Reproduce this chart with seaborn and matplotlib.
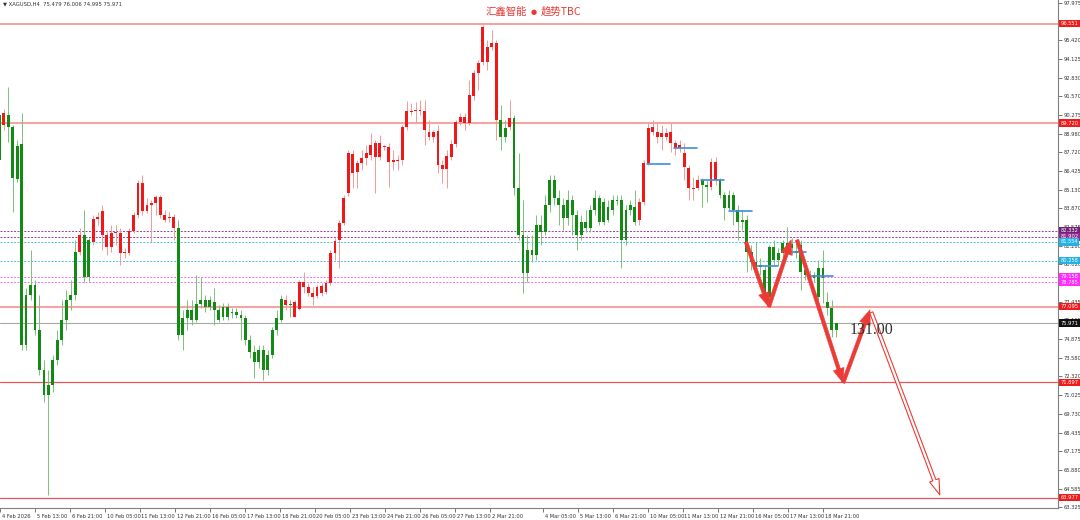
import numpy as np
import pandas as pd
import seaborn as sns
import matplotlib.pyplot as plt
from matplotlib import transforms

# XAGUSD H4 candles
opens = [
    90.28, 89.59, 90.28, 89.45, 85.88, 88.28, 74.47, 77.91, 78.59, 75.50,
    72.75, 71.03, 71.72, 73.44, 74.81, 76.19, 77.56, 77.91, 80.86, 82.03,
    79.14, 81.55, 83.13, 82.03, 82.03, 81.21, 82.17, 82.17, 80.79, 80.79,
    82.30, 83.40, 85.60, 83.68, 84.09, 84.23, 84.64, 83.40, 83.20, 83.27,
    82.51, 75.16, 76.32, 76.87, 76.19, 77.29, 77.56, 77.08, 77.42, 76.87,
    76.39, 77.08, 76.74, 76.74, 76.53, 76.32, 74.81, 73.99, 73.30, 74.12,
    72.75, 73.78, 75.50, 76.19, 77.22, 77.22, 76.39, 76.94, 78.46, 78.04,
    77.77, 77.84, 78.04, 78.11, 78.73, 80.79, 81.69, 82.85, 84.92, 87.60,
    86.36, 86.98, 87.32, 87.53, 88.35, 87.39, 88.08, 88.08, 87.18, 87.11,
    87.18, 89.45, 90.48, 90.55, 90.62, 90.55, 89.11, 88.76, 89.18, 86.84,
    86.57, 87.39, 88.28, 89.79, 89.73, 89.73, 91.58, 93.16, 93.92, 94.95,
    94.95, 95.23, 89.93, 89.38, 89.45, 90.07, 85.26, 82.03, 79.42, 81.00,
    80.65, 82.72, 82.23, 84.09, 85.81, 84.57, 84.09, 83.20, 84.43, 83.40,
    82.03, 82.92, 82.51, 83.75, 84.57, 82.92, 83.95, 83.75, 84.43, 84.43,
    81.69, 83.75, 83.95, 83.06, 84.30, 86.98, 89.11, 88.76, 88.76, 88.76,
    89.11, 88.35, 88.01, 87.66, 86.63, 85.26, 85.26, 85.81, 85.46, 85.33,
    87.05, 85.81, 84.78, 83.88, 84.78, 83.75, 82.92, 83.06, 80.86, 80.17,
    79.83, 79.62, 77.77, 81.21, 80.31, 80.79, 81.48, 81.14, 80.93, 81.34,
    79.62, 79.28, 79.07, 79.76, 79.76, 77.42, 77.01, 75.479,
]
highs = [
    90.48, 90.69, 92.20, 89.59, 88.56, 90.41, 78.39, 81.00, 78.94, 77.91,
    73.44, 72.75, 73.78, 75.50, 77.56, 78.25, 78.94, 81.69, 82.51, 83.75,
    81.83, 83.41, 83.61, 84.09, 82.37, 82.72, 82.72, 82.51, 81.14, 82.51,
    83.61, 85.81, 86.15, 84.57, 84.43, 84.78, 84.78, 83.75, 83.61, 83.47,
    83.06, 76.87, 77.56, 77.56, 79.28, 79.14, 77.91, 77.84, 78.39, 77.22,
    77.36, 77.36, 77.01, 77.01, 76.87, 76.53, 75.16, 74.47, 74.47, 74.47,
    74.12, 75.70, 76.87, 77.91, 77.91, 77.56, 77.56, 78.94, 79.49, 78.73,
    78.46, 78.59, 78.73, 78.94, 81.00, 81.83, 83.06, 84.78, 87.87, 87.87,
    87.18, 87.87, 88.21, 89.04, 88.56, 88.90, 88.21, 88.35, 87.87, 87.53,
    89.59, 91.24, 91.10, 91.17, 91.31, 91.31, 89.93, 89.25, 89.59, 87.18,
    87.87, 88.56, 89.93, 90.41, 90.41, 92.68, 93.37, 94.06, 96.46, 95.43,
    96.12, 95.43, 90.96, 89.93, 91.31, 90.28, 87.66, 84.43, 82.03, 82.03,
    83.40, 83.40, 84.78, 86.15, 86.15, 85.12, 84.57, 85.12, 84.78, 83.75,
    83.40, 83.75, 84.09, 85.12, 84.78, 84.57, 84.43, 84.78, 84.78, 84.78,
    84.09, 84.43, 85.12, 84.57, 87.18, 89.73, 89.93, 89.73, 89.59, 89.38,
    89.73, 88.56, 88.56, 88.35, 86.84, 86.02, 86.15, 85.95, 85.81, 87.32,
    87.39, 85.95, 84.99, 85.12, 84.99, 84.09, 83.75, 83.40, 81.34, 81.55,
    80.45, 79.97, 81.34, 81.69, 81.14, 81.69, 82.58, 81.83, 81.55, 81.69,
    79.97, 79.62, 79.49, 80.31, 81.00, 78.11, 77.56, 76.006,
]
lows = [
    85.12, 89.25, 88.42, 83.61, 85.67, 74.12, 74.12, 77.56, 75.16, 72.41,
    70.55, 64.16, 71.24, 73.09, 74.47, 75.50, 76.87, 77.56, 80.65, 78.80,
    78.80, 81.34, 82.72, 81.00, 80.65, 80.86, 81.34, 79.97, 80.45, 80.65,
    82.17, 83.20, 83.40, 83.54, 81.55, 83.40, 83.20, 82.92, 82.92, 81.69,
    74.81, 74.12, 75.50, 75.84, 76.05, 77.01, 76.74, 76.87, 75.84, 76.05,
    76.19, 76.19, 76.32, 76.32, 74.81, 74.47, 73.57, 72.20, 72.89, 72.06,
    72.41, 73.57, 75.16, 76.05, 76.87, 76.39, 76.39, 76.87, 78.04, 77.84,
    77.22, 77.70, 77.84, 77.98, 78.59, 80.31, 79.76, 82.72, 84.71, 85.26,
    85.26, 86.50, 86.84, 87.18, 84.92, 87.18, 87.87, 85.33, 86.50, 86.50,
    86.84, 89.25, 90.28, 89.80, 90.28, 88.21, 88.56, 88.42, 86.29, 85.60,
    85.26, 87.18, 88.08, 89.59, 89.25, 89.59, 91.31, 91.99, 93.71, 93.37,
    94.74, 88.56, 87.87, 88.42, 89.25, 84.78, 81.69, 78.04, 78.80, 80.17,
    80.31, 81.34, 82.03, 83.61, 84.09, 82.72, 82.37, 82.72, 82.03, 81.00,
    81.69, 82.23, 82.23, 83.40, 82.72, 82.72, 82.92, 83.40, 84.09, 79.76,
    81.34, 83.40, 82.72, 82.72, 84.09, 86.84, 88.90, 88.35, 87.87, 88.56,
    87.73, 87.53, 87.73, 85.81, 84.43, 84.43, 85.12, 83.95, 84.30, 85.12,
    85.46, 84.57, 83.06, 83.75, 82.72, 81.69, 82.37, 79.49, 79.62, 79.07,
    79.28, 77.70, 77.56, 79.97, 79.97, 80.45, 80.86, 80.65, 80.45, 78.25,
    78.94, 78.80, 78.80, 77.56, 77.36, 76.53, 75.02, 74.995,
]
closes = [
    87.18, 90.41, 89.45, 85.95, 88.14, 74.47, 77.91, 78.59, 75.50, 72.75,
    71.03, 71.72, 73.44, 74.81, 76.19, 77.56, 77.91, 80.86, 82.03, 79.14,
    81.69, 83.13, 83.27, 83.68, 81.21, 82.17, 82.20, 80.79, 80.82, 82.30,
    83.40, 85.60, 83.68, 84.09, 84.23, 84.64, 83.40, 83.06, 83.27, 82.51,
    75.16, 76.32, 76.87, 76.19, 77.29, 77.56, 77.08, 77.56, 76.87, 76.19,
    77.08, 76.39, 76.67, 76.53, 76.32, 74.81, 73.99, 73.30, 74.12, 72.75,
    73.78, 75.50, 76.32, 77.63, 77.56, 77.25, 77.42, 78.80, 78.80, 78.46,
    78.04, 78.46, 78.52, 78.73, 80.79, 81.62, 82.85, 84.57, 87.66, 86.29,
    86.98, 87.32, 87.66, 88.21, 87.39, 88.35, 88.14, 87.05, 87.05, 87.18,
    89.45, 90.55, 90.55, 90.62, 90.55, 89.25, 88.76, 89.11, 86.84, 86.57,
    87.46, 88.28, 89.79, 90.14, 90.14, 91.65, 93.16, 93.85, 96.32, 93.92,
    95.23, 89.93, 88.76, 88.76, 90.07, 85.26, 82.03, 79.42, 81.00, 80.65,
    82.72, 82.23, 84.09, 85.81, 84.57, 84.09, 83.20, 84.43, 83.40, 82.03,
    82.92, 82.51, 83.75, 84.57, 82.92, 84.30, 83.06, 84.43, 84.37, 81.69,
    83.75, 84.09, 82.92, 84.30, 86.98, 89.38, 89.45, 89.11, 89.04, 89.04,
    88.35, 88.01, 88.21, 86.70, 85.26, 85.22, 85.81, 85.46, 85.33, 87.05,
    85.81, 84.78, 83.88, 84.78, 83.75, 82.92, 83.06, 80.86, 80.17, 79.83,
    79.97, 77.91, 81.21, 80.31, 80.79, 81.48, 81.14, 81.41, 80.79, 79.49,
    79.28, 79.07, 79.28, 77.77, 79.07, 77.01, 75.48, 75.971,
]
# bars painted red by the TBC trend indicator (inclusive index ranges), rest green
red_runs = [(1, 1), (18, 18), (21, 39), (64, 64), (66, 111), (114, 114),
            (143, 156), (159, 160)]

x_tick_pos = [0.2, 8.0, 15.8, 23.6, 31.4, 39.3, 47.1, 54.9, 62.7, 70.5, 78.4, 86.2,
              94.0, 101.8, 109.6, 121.5, 129.3, 137.1, 144.9, 152.7, 160.6, 168.4,
              176.2, 184.0]
x_tick_labels = ["4 Feb 2026", "5 Feb 13:00", "6 Feb 21:00", "10 Feb 05:00",
                 "11 Feb 13:00", "12 Feb 21:00", "16 Feb 05:00", "17 Feb 13:00",
                 "18 Feb 21:00", "20 Feb 05:00", "23 Feb 13:00", "24 Feb 21:00",
                 "26 Feb 05:00", "27 Feb 13:00", "2 Mar 21:00", "4 Mar 05:00",
                 "5 Mar 13:00", "6 Mar 21:00", "10 Mar 05:00", "11 Mar 13:00",
                 "12 Mar 21:00", "16 Mar 05:00", "17 Mar 13:00", "18 Mar 21:00"]
# price scale labels (those fully hidden under tags are left out)
y_ticks = [97.975, 95.420, 94.125, 92.830, 91.570, 90.275, 88.980, 87.720,
           86.425, 85.130, 83.870, 82.575, 81.280, 80.020, 77.435, 76.165,
           74.875, 73.580, 72.320, 71.025, 69.730, 68.435, 67.175, 65.880, 64.585,
           63.325]

# horizontal levels
red_levels = [96.551, 89.720, 77.095]
red_levels_thin = [71.897, 63.977]
last_price = 75.971
purple_levels = [82.332, 81.902]
cyan_levels = [81.554, 80.258]
magenta_levels = [79.158, 78.785]

# price tags on the right axis
tag_values = [96.551, 89.720, 82.332, 81.902, 81.554, 80.258, 79.158, 78.785,
              77.095, 75.971, 71.897, 63.977]
tag_colors = ["#f01c1c", "#f01c1c", "#74207a", "#8c2c8e", "#22b2e6", "#22b2e6",
              "#ff2cff", "#ff2cff", "#f01c1c", "#111111", "#f01c1c", "#f01c1c"]

# short blue indicator segments
seg_start = [144.7, 150.7, 156.8, 163.0, 169.3, 176.9, 180.7]
seg_end = [149.8, 155.9, 161.9, 168.1, 174.0, 180.2, 186.2]
seg_level = [86.91, 88.01, 85.81, 83.68, 79.90, 80.86, 79.21]

# projected path arrows
arr_x0 = [166.8, 171.9, 178.2, 188.5]
arr_y0 = [81.55, 77.08, 81.69, 71.86]
arr_x1 = [171.9, 176.9, 188.5, 194.5]
arr_y1 = [77.08, 81.69, 71.86, 76.88]
last_arrow = (194.8, 76.70, 210.1, 64.16)

sns.set_theme(style="white")
plt.rcParams["font.family"] = ["DejaVu Sans"]

df = pd.DataFrame({"o": opens, "h": highs, "l": lows, "c": closes})
df["i"] = np.arange(len(df))
df["red"] = False
for a, b in red_runs:
    df.loc[a:b, "red"] = True

fig = plt.figure(figsize=(10.8, 5.2), dpi=100)
ax = fig.add_axes([0.0, 12 / 520, 1058 / 1080, 508 / 520])
ax.set_facecolor("white")

# levels
for v in red_levels:
    ax.axhline(v, color="#f5a3a3", lw=1.5, zorder=1)
for v in red_levels_thin:
    ax.axhline(v, color="#e8555a", lw=0.9, zorder=1)
ax.axhline(last_price, color="#a8a8a8", lw=0.8, zorder=1)
for v in purple_levels:
    ax.axhline(v, color="#9a3c9e", lw=0.7, ls=(0, (2, 1.5)), zorder=1)
for v in cyan_levels:
    ax.axhline(v, color="#48c2e6", lw=0.7, ls=(0, (2, 1.5)), zorder=1)
for v in magenta_levels:
    ax.axhline(v, color="#f070f0", lw=0.7, ls=(0, (2, 1.5)), zorder=1)

# candles
body_col = np.where(df["red"], "#f01818", "#138a13")
wick_col = np.where(df["red"], "#f29a9a", "#7cc07c")
ax.vlines(df["i"], df["l"], df["h"], colors=wick_col, lw=0.7, zorder=2)
lo = np.minimum(df["o"], df["c"])
hgt = np.maximum((df["o"] - df["c"]).abs(), 0.06)
ax.bar(df["i"], hgt, bottom=lo, width=0.64, color=body_col, lw=0, zorder=3)

# blue segments
seg = pd.DataFrame({
    "x": seg_start + seg_end,
    "y": seg_level + seg_level,
    "seg": list(range(len(seg_start))) * 2,
})
sns.lineplot(data=seg, x="x", y="y", units="seg", estimator=None,
             color="#3d8fe0", lw=1.2, ax=ax, zorder=4)

# arrows
for x0, y0, x1, y1 in zip(arr_x0, arr_y0, arr_x1, arr_y1):
    ax.annotate("", xy=(x1, y1), xytext=(x0, y0),
                arrowprops=dict(arrowstyle="simple,head_length=1.3,head_width=1.0,tail_width=0.32",
                                fc="#ec3b34", ec="#ec3b34", lw=0.4,
                                shrinkA=0, shrinkB=0, mutation_scale=8), zorder=5)
ax.annotate("", xy=last_arrow[2:], xytext=last_arrow[:2],
            arrowprops=dict(arrowstyle="simple,head_length=1.4,head_width=0.9,tail_width=0.3",
                            fc="white", ec="#ec3b34", lw=0.8,
                            shrinkA=0, shrinkB=0, mutation_scale=8), zorder=5)

ax.text(190.0, 75.5, "131.00", fontsize=11.5, color="#333333", va="center",
        ha="left", family=["Liberation Serif", "DejaVu Serif"], zorder=6)

# axes
ax.set_xlim(0.18, 236.5)
ax.set_ylim(63.256, 98.181)
for s in ["left", "top"]:
    ax.spines[s].set_visible(False)
for s in ["right", "bottom"]:
    ax.spines[s].set_color("#808080")
    ax.spines[s].set_linewidth(0.8)
ax.yaxis.tick_right()
ax.set_yticks(y_ticks)
ax.set_yticklabels([f"{v:.3f}" for v in y_ticks])
ax.set_xticks(x_tick_pos)
ax.set_xticklabels(x_tick_labels)
ax.tick_params(axis="both", direction="out", length=3, width=0.6, color="#606060",
               labelsize=3.7, labelcolor="#333333", pad=1.2)
ax.tick_params(axis="x", bottom=True)
ax.tick_params(axis="y", right=True)
off = transforms.ScaledTranslation(1.2 / 72, 0, fig.dpi_scale_trans)
for lab in ax.get_xticklabels():
    lab.set_horizontalalignment("left")
    lab.set_transform(lab.get_transform() + off)
ax.set_xlabel("")
ax.set_ylabel("")
ax.grid(False)

# price tags
tag_tr = transforms.blended_transform_factory(ax.transAxes, ax.transData)
for v, col in zip(tag_values, tag_colors):
    ax.text(1.0025, v, f"{v:.3f}", transform=tag_tr, fontsize=3.7, color="white",
            ha="left", va="center", clip_on=False, zorder=10,
            bbox=dict(boxstyle="square,pad=0.25", fc=col, ec="none"))

fig.text(0.003, 0.992, "\u25bc XAGUSD,H4  75.479 76.006 74.995 75.971", fontsize=3.8,
         color="#333333", va="center", ha="left")
cjk = ["Noto Sans CJK SC", "DejaVu Sans"]
fig.text(0.488, 0.977, "汇鑫智能", fontsize=7.5, color="#e53935",
         ha="right", va="center", family=cjk)
fig.text(0.494, 0.977, "\u25cf", fontsize=5, color="#e53935",
         ha="center", va="center")
fig.text(0.501, 0.977, "趋势TBC", fontsize=7.5, color="#e53935",
         ha="left", va="center", family=cjk)

fig.savefig("out.png", dpi=100, facecolor="white")
